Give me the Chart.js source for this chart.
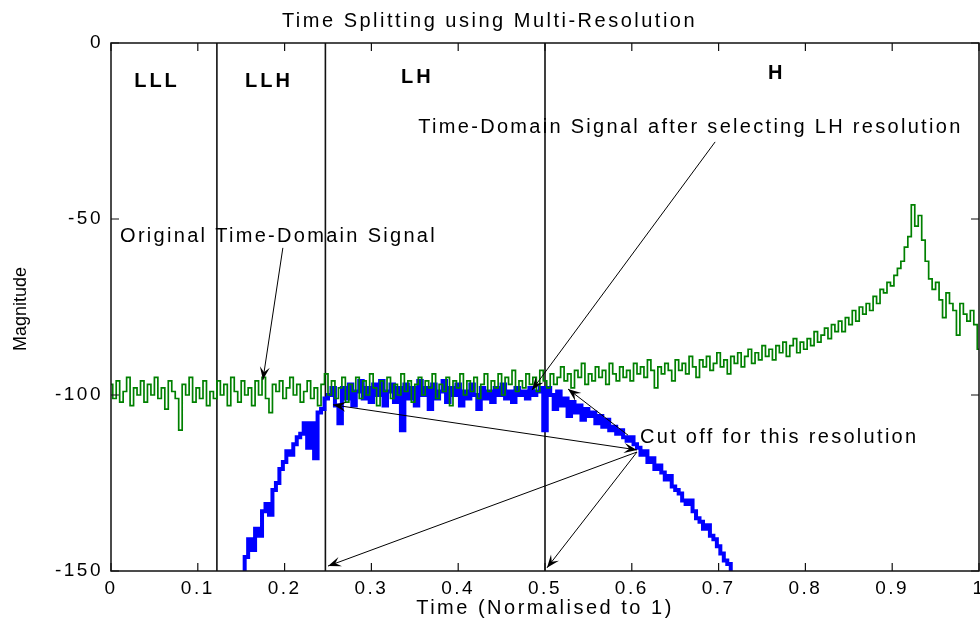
<!DOCTYPE html>
<html>
<head>
<meta charset="utf-8">
<script src="https://cdn.jsdelivr.net/npm/chart.js@4.4.1/dist/chart.umd.min.js"></script>
<style>
  html, body { margin: 0; padding: 0; background: #fff; }
  #wrap { width: 980px; height: 629px; }
</style>
</head>
<body>
<div id="wrap"><canvas id="chart" width="980" height="629"></canvas></div>
<script>
// Time splitting plot
const FONT = '"Liberation Sans", Arial, sans-serif';

// original signal (green), sampled every 0.004 from t = 0
const greenStart = 0, greenStep = 0.004;
const greenMag = [
  -97,-101,-96,-102,-99,-95,-103,-98,-100,-96,
  -102,-97,-100,-95,-101,-98,-104,-96,-99,-101,
  -110,-97,-100,-95,-102,-98,-101,-96,-103,-99,
  -101,-96,-100,-97,-103,-95,-99,-102,-96,-100,
  -98,-103,-96,-100,-95,-101,-105,-97,-99,-96,
  -101,-98,-95,-100,-97,-102,-99,-96,-101,-98,
  -103,-97,-94,-100,-96,-101,-98,-95,-102,-97,
  -99,-95,-101,-96,-100,-94,-98,-103,-96,-99,
  -95,-101,-97,-100,-94,-99,-96,-102,-97,-95,
  -100,-96,-98,-94,-101,-97,-99,-95,-103,-96,
  -98,-94,-100,-96,-99,-95,-101,-97,-94,-99,
  -96,-98,-94,-100,-95,-97,-93,-99,-96,-98,
  -94,-97,-95,-99,-93,-96,-98,-94,-97,-95,
  -92,-96,-94,-98,-93,-95,-91,-97,-94,-96,
  -92,-95,-93,-97,-91,-94,-96,-92,-95,-93,
  -96,-91,-94,-92,-95,-90,-93,-98,-92,-94,
  -91,-93,-96,-90,-93,-91,-94,-89,-92,-95,
  -90,-92,-89,-93,-91,-88,-92,-90,-94,-89,
  -91,-88,-92,-89,-87,-91,-88,-90,-86,-89,
  -87,-90,-86,-88,-85,-89,-86,-84,-88,-85,
  -87,-84,-86,-82,-85,-83,-81,-84,-80,-82,
  -79,-82,-78,-80,-76,-79,-75,-77,-74,-76,
  -72,-74,-70,-71,-68,-69,-66,-64,-62,-58,
  -55,-46,-52,-49,-56,-62,-67,-70,-68,-73,
  -78,-71,-74,-76,-83,-74,-77,-79,-76,-80,
  -87
];

// signal after selecting LH (blue), sampled every 0.004 from t = 0.152
const blueStart = 0.152, blueStep = 0.004;
const blueMag = [
  -150,-146,-141,-144,-138,-140,-133,-131,-134,-127,
  -125,-121,-119,-116,-117,-114,-112,-111,-108,-115,
  -108,-118,-105,-104,-101,-100,-98,-103,-108,-98,
  -101,-97,-103,-99,-96,-101,-98,-102,-97,-100,
  -96,-103,-99,-97,-102,-98,-110,-97,-101,-98,
  -103,-96,-100,-98,-104,-97,-101,-99,-96,-102,
  -98,-100,-97,-103,-99,-101,-97,-100,-104,-98,
  -101,-99,-102,-98,-100,-97,-101,-99,-102,-98,
  -100,-99,-101,-98,-100,-99,-98,-110,-98,-100,
  -104,-99,-103,-101,-106,-102,-105,-103,-107,-104,
  -106,-105,-108,-106,-109,-107,-110,-109,-111,-110,
  -112,-113,-112,-114,-115,-117,-116,-119,-118,-121,
  -120,-122,-124,-123,-126,-127,-128,-130,-131,-130,
  -133,-135,-136,-138,-137,-140,-141,-143,-145,-147,
  -148,-150
];

// resolution boundaries and band names
const splitTimes = [0.122, 0.247, 0.5];
const bandNames = ['LLL', 'LLH', 'LH', 'H'];
const bandX = [0.053, 0.182, 0.353, 0.767];
const bandY = [-10.8, -10.8, -9.9, -8.7];

// text notes (left edge, vertical centre) in data units
const noteText = ['Time-Domain Signal after selecting LH resolution', 'Original Time-Domain Signal', 'Cut off for this resolution'];
const noteX = [0.354, 0.0104, 0.6094];
const noteY = [-24.1, -55.1, -112.2];

// arrows: from (x1,y1) to (x2,y2), head at end, some at both ends
const arrowFrom = [[0.198, -58.2], [0.696, -28.1], [0.5956, -111.4], [0.606, -115.6], [0.606, -116.2], [0.606, -116.2]];
const arrowTo   = [[0.175, -95.7], [0.485, -98.6], [0.5265, -98.3], [0.2558, -102.8], [0.25, -148.6], [0.5023, -149.1]];
const arrowBoth = [false, false, false, true, false, false];

const xTickMin = 0, xTickMax = 1, xTickStep = 0.1;
const yTickMin = -150, yTickMax = 0, yTickStep = 50;

function series(start, step, vals){ return vals.map((v, i) => ({ x: +(start + i * step).toFixed(4), y: v })); }

function head(ctx, x1, y1, x2, y2){
  const a = Math.atan2(y2 - y1, x2 - x1), L = 13, W = 5;
  ctx.beginPath();
  ctx.moveTo(x2, y2);
  ctx.lineTo(x2 - L * Math.cos(a) + W * Math.sin(a), y2 - L * Math.sin(a) - W * Math.cos(a));
  ctx.lineTo(x2 - L * 0.6 * Math.cos(a), y2 - L * 0.6 * Math.sin(a));
  ctx.lineTo(x2 - L * Math.cos(a) - W * Math.sin(a), y2 - L * Math.sin(a) + W * Math.cos(a));
  ctx.closePath();
  ctx.fill();
}

const overlay = {
  id: 'overlay',
  beforeDraw(chart){ chart.ctx.letterSpacing = '2.5px'; },
  afterDatasetsDraw(chart){
    const ctx = chart.ctx, xs = chart.scales.x, ys = chart.scales.y;
    ctx.save();
    ctx.strokeStyle = '#000'; ctx.fillStyle = '#000'; ctx.lineWidth = 1;
    arrowFrom.forEach((f, i) => {
      const x1 = xs.getPixelForValue(f[0]), y1 = ys.getPixelForValue(f[1]);
      const x2 = xs.getPixelForValue(arrowTo[i][0]), y2 = ys.getPixelForValue(arrowTo[i][1]);
      ctx.beginPath(); ctx.moveTo(x1, y1); ctx.lineTo(x2, y2); ctx.stroke();
      head(ctx, x1, y1, x2, y2);
      if (arrowBoth[i]) head(ctx, x2, y2, x1, y1);
    });
    ctx.textBaseline = 'middle';
    ctx.textAlign = 'left';
    ctx.letterSpacing = '2.3px';
    ctx.font = '20px ' + FONT;
    noteText.forEach((t, i) => ctx.fillText(t, xs.getPixelForValue(noteX[i]), ys.getPixelForValue(noteY[i])));
    ctx.textAlign = 'center';
    ctx.letterSpacing = '3px';
    ctx.font = 'bold 20px ' + FONT;
    bandNames.forEach((t, i) => ctx.fillText(t, xs.getPixelForValue(bandX[i]), ys.getPixelForValue(bandY[i])));
    ctx.restore();
  },
  afterDraw(chart){
    const ctx = chart.ctx, a = chart.chartArea, xs = chart.scales.x, ys = chart.scales.y;
    ctx.save();
    ctx.strokeStyle = '#111'; ctx.lineWidth = 1.5;
    ctx.strokeRect(a.left, a.top, a.right - a.left, a.bottom - a.top);
    ctx.lineWidth = 1.2;
    ctx.beginPath();
    xs.ticks.forEach(t => {
      const px = xs.getPixelForValue(t.value);
      ctx.moveTo(px, a.top); ctx.lineTo(px, a.top + 8);
      ctx.moveTo(px, a.bottom); ctx.lineTo(px, a.bottom - 8);
    });
    ys.ticks.forEach(t => {
      const py = ys.getPixelForValue(t.value);
      ctx.moveTo(a.left, py); ctx.lineTo(a.left + 8, py);
      ctx.moveTo(a.right, py); ctx.lineTo(a.right - 8, py);
    });
    ctx.stroke();
    // y axis title, drawn here so it keeps normal spacing
    ctx.translate(21, (a.top + a.bottom) / 2 + 2);
    ctx.rotate(-Math.PI / 2);
    ctx.letterSpacing = '0px';
    ctx.font = '18px ' + FONT;
    ctx.fillStyle = '#000';
    ctx.textAlign = 'center'; ctx.textBaseline = 'middle';
    ctx.fillText('Magnitude', 0, 0);
    ctx.restore();
  }
};

const datasets = [
  { data: series(greenStart, greenStep, greenMag), borderColor: '#008000', borderWidth: 1.7, stepped: 'middle', order: 0 },
  { data: series(blueStart, blueStep, blueMag), borderColor: '#0000ff', borderWidth: 4, stepped: 'middle', order: 1 }
];
splitTimes.forEach(t => datasets.push({ data: [{ x: t, y: yTickMax }, { x: t, y: yTickMin }], borderColor: '#111', borderWidth: 1.6, order: 2 }));
datasets.forEach(d => { d.pointRadius = 0; d.fill = false; d.tension = 0; });

new Chart(document.getElementById('chart').getContext('2d'), {
  type: 'line',
  data: { datasets },
  plugins: [overlay],
  options: {
    responsive: false,
    animation: false,
    events: [],
    layout: { padding: { left: 0, right: 1, top: 0, bottom: 0 } },
    plugins: {
      legend: { display: false },
      tooltip: { enabled: false },
      title: { display: true, text: 'Time Splitting using Multi-Resolution', color: '#000', font: { family: FONT, size: 20, weight: 'normal' }, padding: { top: 9, bottom: 10 } }
    },
    scales: {
      x: {
        type: 'linear', min: xTickMin, max: xTickMax,
        ticks: { stepSize: xTickStep, padding: 6, maxRotation: 0, autoSkip: false, color: '#000', font: { family: FONT, size: 19 },
                 callback: v => String(Math.round(v * 10) / 10) },
        grid: { display: false, drawTicks: false },
        border: { display: false },
        title: { display: true, text: 'Time (Normalised to 1)', color: '#000', font: { family: FONT, size: 20 }, padding: { top: 0, bottom: 9 } },
        afterFit(s){ s.height = 58; s.paddingLeft = 0; s.paddingRight = 0; }
      },
      y: {
        min: yTickMin, max: yTickMax,
        ticks: { stepSize: yTickStep, padding: 8, color: '#000', font: { family: FONT, size: 19 } },
        grid: { display: false, drawTicks: false },
        border: { display: false },
        afterFit(s){ s.width = 111; s.paddingTop = 0; s.paddingBottom = 0; }
      }
    }
  }
});
</script>
</body>
</html>
